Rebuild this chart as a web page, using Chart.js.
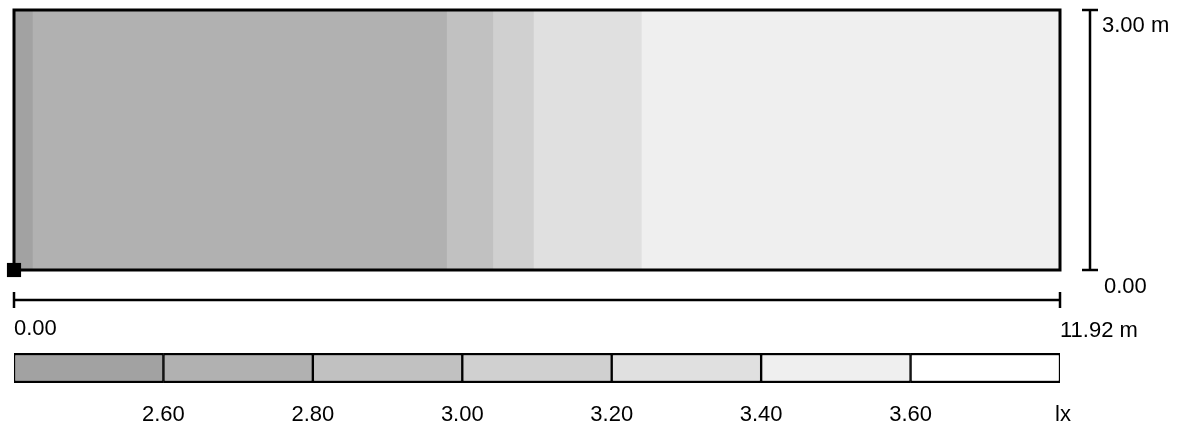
<!DOCTYPE html>
<html>
<head>
<meta charset="utf-8">
<script src="https://cdn.jsdelivr.net/npm/chart.js@4.4.0/dist/chart.umd.min.js"></script>
<style>
body{margin:0;background:#fff;}
canvas{display:block;}
</style>
</head>
<body>
<canvas id="room" width="1179" height="340"></canvas>
<canvas id="legend" width="1179" height="88"></canvas>
<script>
// room size (m)
var roomWidth = 11.92;
var roomHeight = 3.00;

// isoline bands across the room (m), left edge of each band
var bandStart = [0, 0.21, 4.93, 5.46, 5.92, 7.15];
var bandColor = ['#a2a2a2', '#b1b1b1', '#c1c1c1', '#d0d0d0', '#e0e0e0', '#efefef'];

// dimension labels
var xDimLabels = ['0.00', '11.92 m'];
var yDimLabels = ['0.00', '3.00 m'];

// legend classes (lx)
var classFrom = [2.40, 2.60, 2.80, 3.00, 3.20, 3.40, 3.60];
var classTo = [2.60, 2.80, 3.00, 3.20, 3.40, 3.60, 3.80];
var classColor = ['#a2a2a2', '#b1b1b1', '#c1c1c1', '#d0d0d0', '#e0e0e0', '#efefef', '#ffffff'];
var legendTicks = ['', '2.60', '2.80', '3.00', '3.20', '3.40', '3.60', 'lx'];

var FONT = '"Liberation Sans", Arial, sans-serif';
var FONT_SIZE = 22;
Chart.defaults.font.family = FONT;
Chart.defaults.color = '#000';

// dimension lines under and right of the room
var dimPlugin = {
  id: 'dims',
  afterDraw: function(chart){
    var ctx = chart.ctx, sx = chart.scales.x, sy = chart.scales.y;
    var x0 = sx.getPixelForValue(0), x1 = sx.getPixelForValue(roomWidth);
    var y0 = sy.getPixelForValue(0), y1 = sy.getPixelForValue(roomHeight);
    var ly = y0 + 30, lx = x1 + 30;
    ctx.save();
    ctx.strokeStyle = '#000';
    ctx.lineWidth = 2.5;
    ctx.beginPath();
    ctx.moveTo(x0, ly); ctx.lineTo(x1, ly);
    ctx.moveTo(x0, ly - 8); ctx.lineTo(x0, ly + 8);
    ctx.moveTo(x1, ly - 8); ctx.lineTo(x1, ly + 8);
    ctx.moveTo(lx, y1); ctx.lineTo(lx, y0);
    ctx.moveTo(lx - 8, y1); ctx.lineTo(lx + 8, y1);
    ctx.moveTo(lx - 8, y0); ctx.lineTo(lx + 8, y0);
    ctx.stroke();
    ctx.fillStyle = '#000';
    ctx.font = FONT_SIZE + 'px ' + FONT;
    ctx.textAlign = 'left';
    ctx.textBaseline = 'alphabetic';
    ctx.fillText(xDimLabels[0], x0, ly + 35);
    ctx.fillText(xDimLabels[1], x1, ly + 37);
    ctx.fillText(yDimLabels[1], lx + 12, y1 + 22);
    ctx.fillText(yDimLabels[0], lx + 14, y0 + 23);
    ctx.restore();
  }
};

// legend tick labels under the colour bar
var legendTickPlugin = {
  id: 'legendTicks',
  afterDraw: function(chart){
    var ctx = chart.ctx, sx = chart.scales.x;
    var bounds = classFrom.concat([classTo[classTo.length - 1]]);
    ctx.save();
    ctx.fillStyle = '#000';
    ctx.font = FONT_SIZE + 'px ' + FONT;
    ctx.textAlign = 'center';
    ctx.textBaseline = 'middle';
    for (var k = 0; k < bounds.length; k++) {
      ctx.fillText(legendTicks[k], sx.getPixelForValue(bounds[k]) + (k === bounds.length - 1 ? 3 : 0), chart.chartArea.bottom + 32);
    }
    ctx.restore();
  }
};

var datasets = [];
// marker at origin
datasets.push({
  data: [{x: 0, y: 0}],
  showLine: false,
  pointStyle: 'rect',
  pointRadius: 10,
  backgroundColor: '#000',
  borderColor: '#000',
  borderWidth: 0,
  clip: false,
  order: 0
});
// room outline
datasets.push({
  data: [{x: 0, y: 0}, {x: 0, y: roomHeight}, {x: roomWidth, y: roomHeight}, {x: roomWidth, y: 0}, {x: 0, y: 0}],
  borderColor: '#000',
  borderWidth: 3,
  borderJoinStyle: 'miter',
  pointRadius: 0,
  fill: false,
  clip: 10,
  order: 1
});
// bands are layered, each one reaching to the right wall
for (var i = 0; i < bandStart.length; i++) {
  datasets.push({
    data: [{x: bandStart[i], y: roomHeight}, {x: roomWidth, y: roomHeight}],
    borderWidth: 0,
    borderColor: bandColor[i],
    backgroundColor: bandColor[i],
    pointRadius: 0,
    fill: 'start',
    order: 2 + bandStart.length - i
  });
}

new Chart(document.getElementById('room'), {
  type: 'line',
  data: {datasets: datasets},
  options: {
    responsive: false,
    animation: false,
    layout: {padding: {left: 14, right: 119, top: 8, bottom: 70}},
    scales: {
      x: {type: 'linear', min: 0, max: roomWidth, display: false},
      y: {type: 'linear', min: 0, max: roomHeight, display: false}
    },
    plugins: {legend: {display: false}, tooltip: {enabled: false}}
  },
  plugins: [dimPlugin]
});

var legendSets = [];
for (var j = 0; j < classFrom.length; j++) {
  legendSets.push({
    data: [[classFrom[j], classTo[j]]],
    backgroundColor: classColor[j],
    borderColor: '#000',
    borderWidth: {top: 2.5, bottom: 2.5, left: 1.5, right: 1.5},
    borderSkipped: false,
    grouped: false,
    categoryPercentage: 1,
    barPercentage: 1
  });
}

new Chart(document.getElementById('legend'), {
  type: 'bar',
  data: {labels: [''], datasets: legendSets},
  options: {
    indexAxis: 'y',
    responsive: false,
    animation: false,
    layout: {padding: {left: 14, right: 119, top: 13, bottom: 45}},
    scales: {
      x: {type: 'linear', min: classFrom[0], max: classTo[classTo.length - 1], display: false},
      y: {display: false}
    },
    plugins: {legend: {display: false}, tooltip: {enabled: false}}
  },
  plugins: [legendTickPlugin]
});
</script>
</body>
</html>
